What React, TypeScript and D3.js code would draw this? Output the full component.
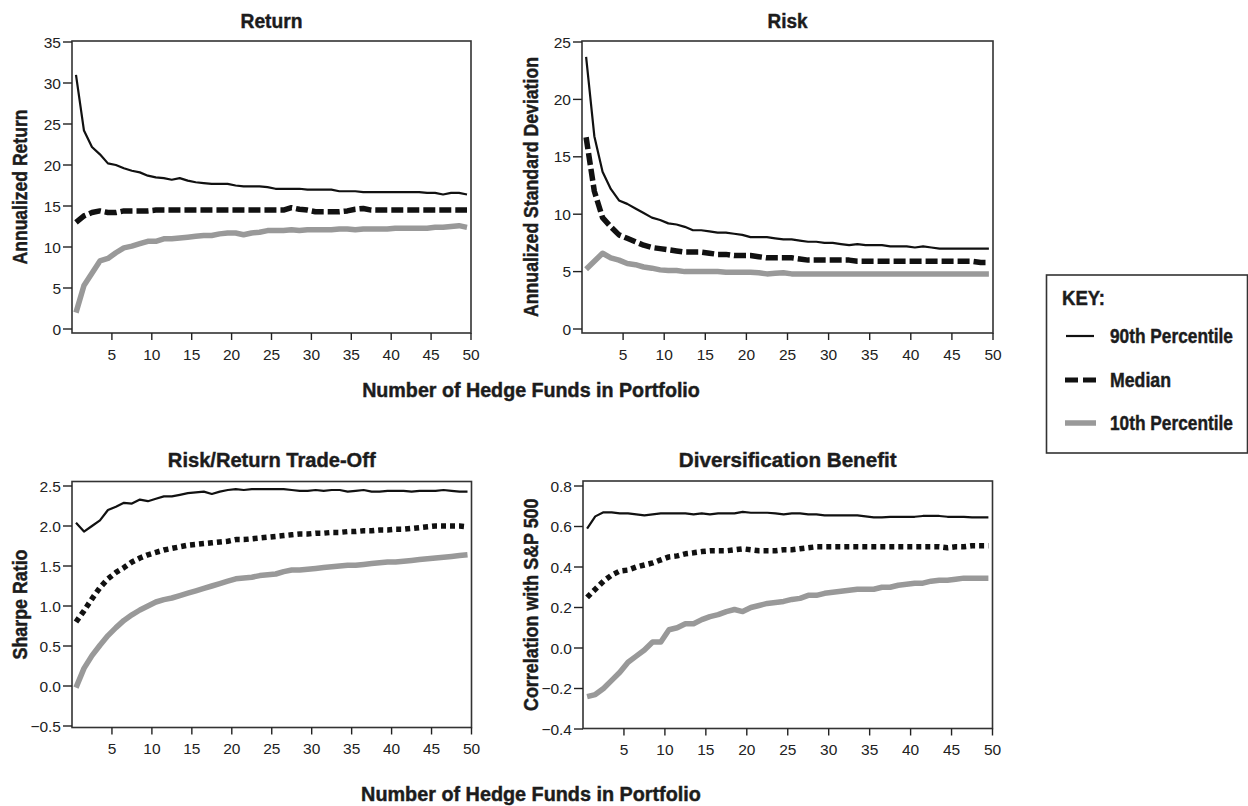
import React from "react";
import * as d3 from "d3";

// number of funds in portfolio (1..50)
const funds = d3.range(1, 51);

// Return (annualized %)
const ret90 = [31.0, 24.2, 22.2, 21.3, 20.2, 20.0, 19.6, 19.3, 19.1, 18.7, 18.5, 18.4, 18.2, 18.4, 18.1, 17.9, 17.8, 17.7, 17.7, 17.7, 17.5, 17.4, 17.4, 17.4, 17.3, 17.1, 17.1, 17.1, 17.1, 17.0, 17.0, 17.0, 17.0, 16.8, 16.8, 16.8, 16.7, 16.7, 16.7, 16.7, 16.7, 16.7, 16.7, 16.7, 16.6, 16.6, 16.4, 16.6, 16.6, 16.4];
const retMed = [13.0, 13.8, 14.2, 14.4, 14.2, 14.2, 14.4, 14.4, 14.4, 14.4, 14.5, 14.5, 14.5, 14.5, 14.5, 14.5, 14.5, 14.5, 14.5, 14.5, 14.5, 14.5, 14.5, 14.5, 14.5, 14.5, 14.5, 14.8, 14.6, 14.5, 14.3, 14.3, 14.3, 14.3, 14.4, 14.6, 14.7, 14.5, 14.5, 14.5, 14.5, 14.5, 14.5, 14.5, 14.5, 14.5, 14.5, 14.5, 14.5, 14.5];
const ret10 = [2.0, 5.3, 6.8, 8.3, 8.6, 9.3, 9.9, 10.1, 10.4, 10.7, 10.7, 11.0, 11.0, 11.1, 11.2, 11.3, 11.4, 11.4, 11.6, 11.7, 11.7, 11.5, 11.7, 11.8, 12.0, 12.0, 12.0, 12.1, 12.0, 12.1, 12.1, 12.1, 12.1, 12.2, 12.2, 12.1, 12.2, 12.2, 12.2, 12.2, 12.3, 12.3, 12.3, 12.3, 12.3, 12.4, 12.4, 12.5, 12.6, 12.4];

// Risk (annualized standard deviation)
const risk90 = [23.7, 16.8, 13.7, 12.2, 11.2, 10.9, 10.5, 10.1, 9.7, 9.5, 9.2, 9.1, 8.9, 8.6, 8.6, 8.5, 8.4, 8.4, 8.3, 8.2, 8.0, 8.0, 8.0, 7.9, 7.8, 7.8, 7.7, 7.6, 7.6, 7.5, 7.5, 7.4, 7.3, 7.4, 7.3, 7.3, 7.3, 7.2, 7.2, 7.2, 7.1, 7.2, 7.1, 7.0, 7.0, 7.0, 7.0, 7.0, 7.0, 7.0];
const riskMed = [16.7, 12.0, 9.7, 8.9, 8.2, 7.9, 7.6, 7.3, 7.1, 7.0, 6.9, 6.8, 6.7, 6.7, 6.7, 6.6, 6.5, 6.5, 6.4, 6.4, 6.4, 6.3, 6.2, 6.2, 6.2, 6.2, 6.1, 6.0, 6.0, 6.0, 6.0, 6.0, 6.0, 5.9, 5.9, 5.9, 5.9, 5.9, 5.9, 5.9, 5.9, 5.9, 5.9, 5.9, 5.9, 5.9, 5.9, 5.9, 5.8, 5.8];
const risk10 = [5.2, 5.9, 6.6, 6.2, 6.0, 5.7, 5.6, 5.4, 5.3, 5.15, 5.1, 5.1, 5.0, 5.0, 5.0, 5.0, 5.0, 4.95, 4.95, 4.95, 4.95, 4.9, 4.8, 4.85, 4.9, 4.8, 4.8, 4.8, 4.8, 4.8, 4.8, 4.8, 4.8, 4.8, 4.8, 4.8, 4.8, 4.8, 4.8, 4.8, 4.8, 4.8, 4.8, 4.8, 4.8, 4.8, 4.8, 4.8, 4.8, 4.8];

// Sharpe ratio
const sharpe90 = [2.04, 1.93, 2.0, 2.07, 2.2, 2.24, 2.29, 2.28, 2.33, 2.31, 2.34, 2.37, 2.37, 2.39, 2.41, 2.42, 2.43, 2.40, 2.43, 2.45, 2.46, 2.45, 2.46, 2.46, 2.46, 2.46, 2.46, 2.45, 2.44, 2.44, 2.45, 2.44, 2.45, 2.45, 2.43, 2.44, 2.45, 2.43, 2.43, 2.44, 2.44, 2.44, 2.43, 2.44, 2.44, 2.44, 2.45, 2.44, 2.43, 2.43];
const sharpeMed = [0.8, 0.94, 1.09, 1.23, 1.34, 1.42, 1.48, 1.55, 1.6, 1.64, 1.67, 1.7, 1.72, 1.74, 1.76, 1.77, 1.78, 1.79, 1.8, 1.81, 1.83, 1.83, 1.84, 1.85, 1.86, 1.87, 1.88, 1.89, 1.9, 1.9, 1.91, 1.91, 1.92, 1.92, 1.93, 1.93, 1.94, 1.94, 1.95, 1.95, 1.96, 1.96, 1.97, 1.98, 1.99, 2.0, 2.0, 2.0, 2.0, 1.99];
const sharpe10 = [-0.02, 0.22, 0.38, 0.51, 0.63, 0.73, 0.82, 0.89, 0.95, 1.0, 1.05, 1.08, 1.1, 1.13, 1.16, 1.19, 1.22, 1.25, 1.28, 1.31, 1.34, 1.35, 1.36, 1.38, 1.39, 1.4, 1.43, 1.45, 1.45, 1.46, 1.47, 1.48, 1.49, 1.5, 1.51, 1.51, 1.52, 1.53, 1.54, 1.55, 1.55, 1.56, 1.57, 1.58, 1.59, 1.6, 1.61, 1.62, 1.63, 1.64];

// Correlation with S&P 500
const corr90 = [0.59, 0.65, 0.67, 0.67, 0.665, 0.665, 0.66, 0.655, 0.66, 0.665, 0.665, 0.665, 0.665, 0.66, 0.665, 0.66, 0.665, 0.665, 0.665, 0.672, 0.668, 0.668, 0.668, 0.665, 0.66, 0.665, 0.665, 0.66, 0.66, 0.655, 0.655, 0.655, 0.655, 0.655, 0.65, 0.645, 0.645, 0.648, 0.648, 0.648, 0.648, 0.652, 0.652, 0.652, 0.648, 0.648, 0.648, 0.645, 0.645, 0.645];
const corrMed = [0.25, 0.29, 0.33, 0.36, 0.38, 0.385, 0.4, 0.41, 0.42, 0.435, 0.45, 0.455, 0.465, 0.47, 0.476, 0.48, 0.48, 0.48, 0.485, 0.49, 0.485, 0.48, 0.48, 0.48, 0.485, 0.485, 0.49, 0.495, 0.5, 0.5, 0.5, 0.5, 0.5, 0.5, 0.5, 0.5, 0.5, 0.5, 0.5, 0.5, 0.5, 0.5, 0.5, 0.5, 0.495, 0.5, 0.5, 0.505, 0.505, 0.505];
const corr10 = [-0.24, -0.23, -0.2, -0.16, -0.12, -0.07, -0.04, -0.01, 0.03, 0.03, 0.09, 0.1, 0.12, 0.12, 0.14, 0.155, 0.165, 0.18, 0.19, 0.18, 0.2, 0.21, 0.22, 0.225, 0.23, 0.24, 0.245, 0.26, 0.26, 0.27, 0.275, 0.28, 0.285, 0.29, 0.29, 0.29, 0.3, 0.3, 0.31, 0.315, 0.32, 0.32, 0.33, 0.335, 0.335, 0.34, 0.345, 0.345, 0.345, 0.345];

const xTicks = d3.range(5, 51, 5);
const keyLabels = ["90th Percentile", "Median", "10th Percentile"];

const FONT = "'Liberation Sans', Arial, sans-serif";
const INK = "#1c1c1c";

const styles = {
  p90: { stroke: "#111", width: 2.2, dash: undefined as string | undefined },
  med: { stroke: "#111", width: 5.5, dash: "12 4" },
  medDot: { stroke: "#111", width: 5.5, dash: "5 4" },
  p10: { stroke: "#999", width: 5.5, dash: undefined as string | undefined },
  key: { stroke: "#111", width: 5, dash: "13 5" },
};

// measure bold text so it can be squeezed to its printed width (condensed look)
const ctx = document.createElement("canvas").getContext("2d");
function boldWidth(s: string, size: number) {
  if (!ctx) return s.length * size * 0.55;
  ctx.font = `bold ${size}px 'Liberation Sans', Arial, sans-serif`;
  return ctx.measureText(s).width;
}

function Label(props: { x: number; y: number; w: number; size: number; anchor?: string; rotate?: boolean; children: string }) {
  const { x, y, w, size, anchor = "middle", rotate } = props;
  const sx = w / boldWidth(props.children, size);
  return (
    <text
      transform={`translate(${x},${y})${rotate ? " rotate(-90)" : ""} scale(${sx},1)`}
      textAnchor={anchor}
      fontSize={size}
      fontWeight="bold"
      fill={INK}
      stroke={INK}
      strokeWidth={0.45}
    >
      {props.children}
    </text>
  );
}

type PanelProps = {
  title: string;
  titleW: number;
  yLabel: string;
  yLabelW: number;
  box: [number, number, number, number]; // left, right, top, bottom
  yDomain: [number, number];
  yRange: [number, number];
  yTicks: number[];
  fmt: (v: number) => string;
  series: number[][];
  dotted?: boolean;
  titleY: number;
  yLabelX: number;
};

function Panel(p: PanelProps) {
  const [l, r, t, b] = p.box;
  const x = d3.scaleLinear().domain([0, 50]).range([l, r]);
  const y = d3.scaleLinear().domain(p.yDomain).range(p.yRange);
  const line = d3
    .line<number>()
    .x((_, i) => x(funds[i] - 0.5))
    .y((v) => y(v));
  const st = [styles.p90, p.dotted ? styles.medDot : styles.med, styles.p10];
  const order = [2, 1, 0];
  return (
    <g>
      <Label x={(l + r) / 2} y={p.titleY} w={p.titleW} size={21}>
        {p.title}
      </Label>
      <Label x={p.yLabelX} y={(t + b) / 2} w={p.yLabelW} size={20} rotate>
        {p.yLabel}
      </Label>
      {order.map((k) => (
        <path
          key={k}
          d={line(p.series[k]) || ""}
          fill="none"
          stroke={st[k].stroke}
          strokeWidth={st[k].width}
          strokeDasharray={st[k].dash}
          strokeLinejoin="round"
        />
      ))}
      <rect x={l} y={t} width={r - l} height={b - t} fill="none" stroke="#333" strokeWidth={1.6} />
      {p.yTicks.map((v) => (
        <g key={v}>
          <line x1={l - 9} x2={l} y1={y(v)} y2={y(v)} stroke="#222" strokeWidth={1.4} />
          <text x={l - 11} y={y(v)} dy="0.36em" textAnchor="end" fontSize={15.5} fill="#222">
            {p.fmt(v)}
          </text>
        </g>
      ))}
      {xTicks.map((v) => (
        <g key={v}>
          <line x1={x(v)} x2={x(v)} y1={b} y2={b + 7} stroke="#222" strokeWidth={1.4} />
          <text x={x(v)} y={b + 21} dy="0.36em" textAnchor="middle" fontSize={15.5} fill="#222">
            {v}
          </text>
        </g>
      ))}
    </g>
  );
}

export default function App() {
  const f0 = (v: number) => d3.format("d")(v);
  const f1 = (v: number) => d3.format(".1f")(v);
  const keyY = [336, 380, 423];
  const keyStyles = [styles.p90, styles.key, styles.p10];
  const keyW = [123, 61, 123];
  return (
    <svg width={1248} height={806} style={{ position: "absolute", left: 0, top: 0, fontFamily: FONT }}>
      <rect width={1248} height={806} fill="#fff" />
      <Panel
        title="Return"
        titleW={62}
        yLabel="Annualized Return"
        yLabelW={155}
        box={[72, 471, 41, 333]}
        yDomain={[0, 35]}
        yRange={[329, 42]}
        yTicks={d3.range(0, 36, 5)}
        fmt={f0}
        series={[ret90, retMed, ret10]}
        titleY={28}
        yLabelX={27}
      />
      <Panel
        title="Risk"
        titleW={40}
        yLabel="Annualized Standard Deviation"
        yLabelW={260}
        box={[582, 993, 41, 333]}
        yDomain={[0, 25]}
        yRange={[329, 42]}
        yTicks={d3.range(0, 26, 5)}
        fmt={f0}
        series={[risk90, riskMed, risk10]}
        titleY={28}
        yLabelX={538}
      />
      <Panel
        title="Risk/Return Trade-Off"
        titleW={208}
        yLabel="Sharpe Ratio"
        yLabelW={110}
        box={[72, 471.5, 481.5, 727.5]}
        yDomain={[-0.5, 2.5]}
        yRange={[726, 486]}
        yTicks={d3.range(-0.5, 2.51, 0.5)}
        fmt={f1}
        series={[sharpe90, sharpeMed, sharpe10]}
        dotted
        titleY={467}
        yLabelX={27}
      />
      <Panel
        title="Diversification Benefit"
        titleW={218}
        yLabel="Correlation with S&P 500"
        yLabelW={213}
        box={[583, 992.5, 481, 728.5]}
        yDomain={[-0.4, 0.8]}
        yRange={[729, 486]}
        yTicks={d3.range(-0.4, 0.81, 0.2)}
        fmt={f1}
        series={[corr90, corrMed, corr10]}
        dotted
        titleY={467}
        yLabelX={538}
      />
      <Label x={531} y={397} w={338} size={20}>
        Number of Hedge Funds in Portfolio
      </Label>
      <Label x={531} y={801} w={340} size={20}>
        Number of Hedge Funds in Portfolio
      </Label>
      <rect x={1046.5} y={275} width={201} height={178} fill="none" stroke="#333" strokeWidth={1.6} />
      <Label x={1062} y={305} w={43} size={21} anchor="start">
        KEY:
      </Label>
      {keyLabels.map((k, i) => (
        <g key={k}>
          <line
            x1={i === 0 ? 1066 : 1065}
            x2={i === 0 ? 1094 : 1096}
            y1={keyY[i]}
            y2={keyY[i]}
            stroke={keyStyles[i].stroke}
            strokeWidth={keyStyles[i].width}
            strokeDasharray={keyStyles[i].dash}
          />
          <Label x={1110} y={keyY[i] + 7} w={keyW[i]} size={20} anchor="start">
            {k}
          </Label>
        </g>
      ))}
    </svg>
  );
}
